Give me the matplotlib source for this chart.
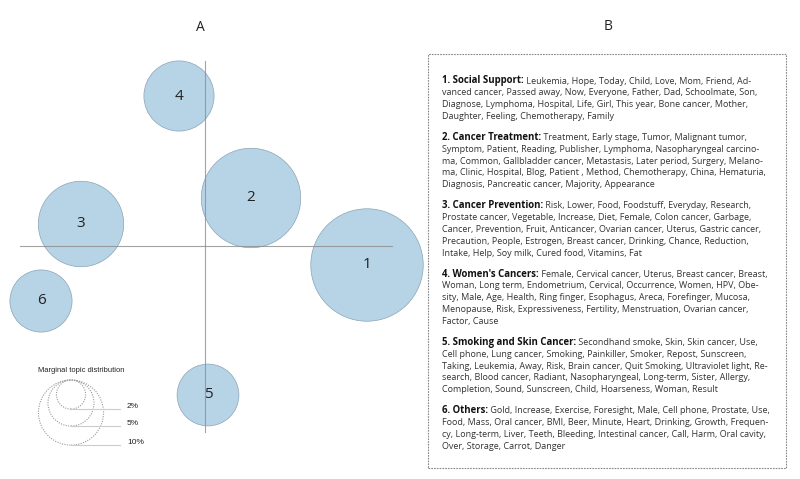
import matplotlib
matplotlib.use('Agg')
import matplotlib.pyplot as plt
from matplotlib.patches import Circle, Rectangle
import numpy as np

# topic positions (PC1, PC2) and marginal topic distribution (%)
topics = ['1', '2', '3', '4', '5', '6']
pc1 = [0.324, 0.092, -0.248, -0.052, 0.006, -0.328]
pc2 = [-0.038, 0.096, 0.044, 0.300, -0.298, -0.110]
share = [29.8, 23.3, 17.2, 11.6, 9.0, 9.1]
legend_pcts = [2, 5, 10]
legend_labels = ['2%', '5%', '10%']

# topic keywords (panel B), line breaks as in the original
headings = ['1. Social Support:', '2. Cancer Treatment:', '3. Cancer Prevention:',
            "4. Women's Cancers:", '5. Smoking and Skin Cancer:', '6. Others:']
keywords = [
    [' Leukemia, Hope, Today, Child, Love, Mom, Friend, Ad-',
     'vanced cancer, Passed away, Now, Everyone, Father, Dad, Schoolmate, Son,',
     'Diagnose, Lymphoma, Hospital, Life, Girl, This year, Bone cancer, Mother,',
     'Daughter, Feeling, Chemotherapy, Family'],
    [' Treatment, Early stage, Tumor, Malignant tumor,',
     'Symptom, Patient, Reading, Publisher, Lymphoma, Nasopharyngeal carcino-',
     'ma, Common, Gallbladder cancer, Metastasis, Later period, Surgery, Melano-',
     'ma, Clinic, Hospital, Blog, Patient , Method, Chemotherapy, China, Hematuria,',
     'Diagnosis, Pancreatic cancer, Majority, Appearance'],
    [' Risk, Lower, Food, Foodstuff, Everyday, Research,',
     'Prostate cancer, Vegetable, Increase, Diet, Female, Colon cancer, Garbage,',
     'Cancer, Prevention, Fruit, Anticancer, Ovarian cancer, Uterus, Gastric cancer,',
     'Precaution, People, Estrogen, Breast cancer, Drinking, Chance, Reduction,',
     'Intake, Help, Soy milk, Cured food, Vitamins, Fat'],
    [' Female, Cervical cancer, Uterus, Breast cancer, Breast,',
     'Woman, Long term, Endometrium, Cervical, Occurrence, Women, HPV, Obe-',
     'sity, Male, Age, Health, Ring finger, Esophagus, Areca, Forefinger, Mucosa,',
     'Menopause, Risk, Expressiveness, Fertility, Menstruation, Ovarian cancer,',
     'Factor, Cause'],
    [' Secondhand smoke, Skin, Skin cancer, Use,',
     'Cell phone, Lung cancer, Smoking, Painkiller, Smoker, Repost, Sunscreen,',
     'Taking, Leukemia, Away, Risk, Brain cancer, Quit Smoking, Ultraviolet light, Re-',
     'search, Blood cancer, Radiant, Nasopharyngeal, Long-term, Sister, Allergy,',
     'Completion, Sound, Sunscreen, Child, Hoarseness, Woman, Result'],
    [' Gold, Increase, Exercise, Foresight, Male, Cell phone, Prostate, Use,',
     'Food, Mass, Oral cancer, BMI, Beer, Minute, Heart, Drinking, Growth, Frequen-',
     'cy, Long-term, Liver, Teeth, Bleeding, Intestinal cancer, Call, Harm, Oral cavity,',
     'Over, Storage, Carrot, Danger'],
]

W, H = 800, 479
fig = plt.figure(figsize=(8, 4.79), dpi=100)

# ---- panel A: bubble map ----
ax = fig.add_axes([0, 0, 420 / W, 1])
ax.set_xlim(-0.41, 0.43)
ax.set_ylim(-0.466, 0.492)
ax.axis('off')

k = 0.0206  # radius per sqrt(percent)
ax.plot([-0.37, 0.374], [0, 0], color='#8c8c8c', lw=0.8, alpha=0.8, zorder=3)
ax.plot([0, 0], [-0.372, 0.37], color='#8c8c8c', lw=0.8, alpha=0.8, zorder=3)
for t, x, y, s in zip(topics, pc1, pc2, share):
    ax.add_patch(Circle((x, y), k * np.sqrt(s), facecolor='#b7d4e6',
                        edgecolor='#8aa3b5', lw=0.5, zorder=2, clip_on=False))
    ax.text(x, y, t, ha='center', va='center', fontsize=11,
            family='Open Sans', color='#222222', zorder=4)

ax.text(-0.01, 0.436, 'A', ha='center', va='center', fontsize=10,
        family='Open Sans', color='#222222')

# size legend
lx, ltop = -0.268, -0.268
ax.text(-0.334, -0.248, 'Marginal topic distribution', fontsize=5.4,
        family='Liberation Sans', color='#222222', va='center', ha='left')
for p, lab in zip(legend_pcts, legend_labels):
    r = k * np.sqrt(p)
    ax.add_patch(Circle((lx, ltop - r), r, fill=False, edgecolor='#999999',
                        lw=0.8, linestyle=(0, (1, 1.2))))
    ax.plot([lx, -0.17], [ltop - 2 * r, ltop - 2 * r], color='#cccccc', lw=0.8)
    ax.text(-0.156, ltop - 2 * r + 0.006, lab, fontsize=6,
            family='Liberation Sans', color='#222222', va='center', ha='left')

# ---- panel B: keyword box ----
fig.text(608 / W, 1 - 26 / H, 'B', ha='center', va='center', fontsize=10,
         family='Open Sans', color='#222222')
fig.patches.append(Rectangle((428 / W, 1 - 468 / H), 358 / W, 414 / H,
                             transform=fig.transFigure, fill=False,
                             edgecolor='#888888', lw=0.8,
                             linestyle=(0, (1.5, 1))))

fs_bold = 6.9
fs = 6.5
renderer = fig.canvas.get_renderer()
x0 = 442
y = 81.0
for head, lines in zip(headings, keywords):
    t = fig.text(x0 / W, 1 - y / H, head, fontsize=fs_bold, family='Open Sans',
                 weight='bold', color='#111111', va='center', ha='left')
    wpx = t.get_window_extent(renderer).width
    fig.text((x0 + wpx) / W, 1 - y / H, lines[0], fontsize=fs,
             family='Open Sans', color='#333333', va='center', ha='left')
    for ln in lines[1:]:
        y += 11.8
        fig.text(x0 / W, 1 - y / H, ln, fontsize=fs, family='Open Sans',
                 color='#333333', va='center', ha='left')
    y += 11.8 + 9.3

fig.savefig('out.png', dpi=100)
